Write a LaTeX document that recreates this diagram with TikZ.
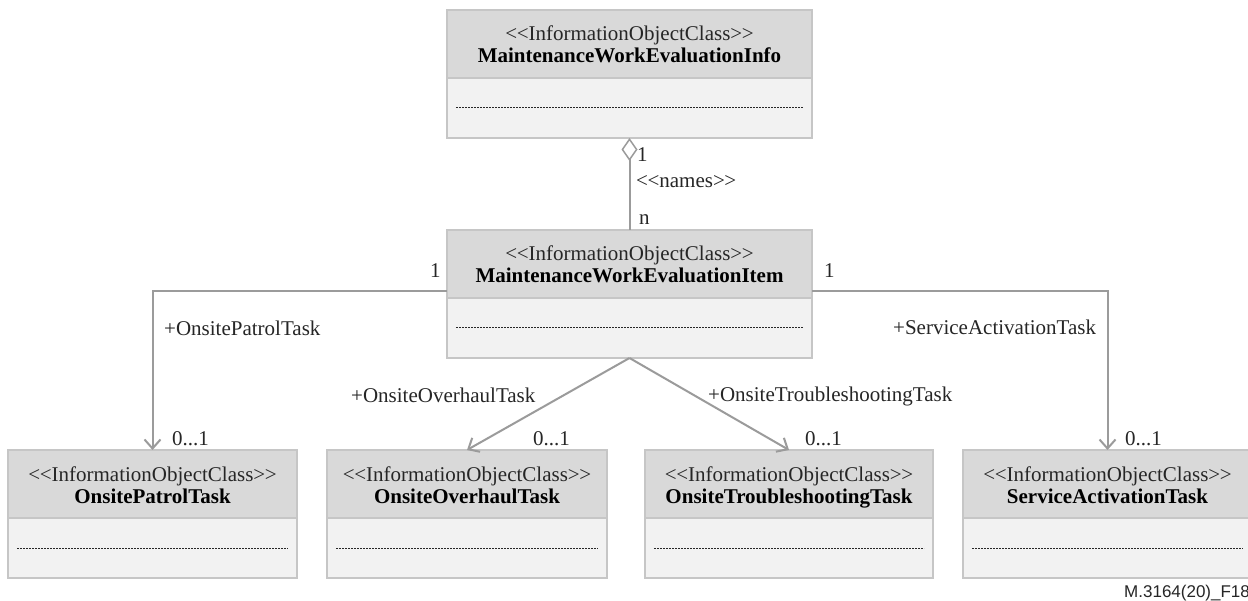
\documentclass[tikz,border=0pt]{standalone}
\usepackage{fontspec}
\setmainfont{Liberation Serif}
\newfontfamily\sansf{Liberation Sans}
\usetikzlibrary{arrows.meta,calc}
\definecolor{headfill}{HTML}{D9D9D9}
\definecolor{bodyfill}{HTML}{F2F2F2}
\definecolor{boxedge}{HTML}{C6C6C6}
\definecolor{connline}{HTML}{9B9B9B}
\definecolor{txt}{HTML}{262626}
\tikzset{
  umlbody/.style={draw=boxedge, line width=1.5pt, fill=bodyfill, inner sep=0pt, outer sep=0pt, minimum height=128pt, anchor=north},
  sterea/.style={font=\fontsize{21}{24}\selectfont, text=txt, anchor=base, inner sep=0pt},
  boldname/.style={font=\fontsize{21}{24}\selectfont\bfseries, text=black, anchor=base, inner sep=0pt},
  lbl/.style={font=\fontsize{21}{24}\selectfont, text=txt, anchor=base west, inner sep=0pt},
  conn/.style={draw=connline, line width=2pt},
  openarrow/.style={-{Straight Barb[length=9pt,width=16pt,line width=2pt]}},
  dotline/.style={draw=txt, line width=1pt, dash pattern=on 2pt off 1pt},
}
\newcommand\umlbox[5]{%
  \node[umlbody, minimum width=#4pt] (#1) at (#2,#3) {};
  \fill[headfill] ([xshift=0.75pt,yshift=-0.75pt]#1.north west) rectangle ([xshift=-0.75pt,yshift=-68pt]#1.north east);
  \draw[draw=boxedge, line width=1.5pt] ([yshift=-68pt]#1.north west) -- ([yshift=-68pt]#1.north east);
  \draw[dotline] ([xshift=9pt,yshift=-98pt]#1.north west) -- ([xshift=-9pt,yshift=-98pt]#1.north east);
  \node[sterea] (#1-st) at ([yshift=-31pt]#1.north) {<\kern-0.5pt<InformationObjectClass>\kern-0.5pt>};
  \node[boldname] (#1-nm) at ([yshift=-53pt]#1.north) {#5};
}
\begin{document}
\begin{tikzpicture}[x=1pt,y=-1pt]
\useasboundingbox (0,0) rectangle (1248,601);
\fill[white] (0,0) rectangle (1248,601);
\umlbox{info}{629.5}{10}{365}{MaintenanceWorkEvaluationInfo}
\umlbox{item}{629.5}{230}{365}{MaintenanceWorkEvaluationItem}
\umlbox{patrol}{152.5}{450}{289}{OnsitePatrolTask}
\umlbox{overhaul}{467}{450}{280}{OnsiteOverhaulTask}
\umlbox{trouble}{789}{450}{288}{OnsiteTroubleshootingTask}
\umlbox{service}{1107.5}{450}{289}{ServiceActivationTask}
\draw[conn, {Diamond[open,length=23pt,width=16pt,line width=1.5pt]}-] (info.south) -- (item.north);
\draw[conn, openarrow] ([yshift=3pt]item.west) -| (patrol.north);
\draw[conn, openarrow] ([yshift=3pt]item.east) -| (service.north);
\draw[conn, openarrow] (item.south) -- (overhaul.north);
\draw[conn, openarrow] (item.south) -- (trouble.north);
\node[lbl] (lagg1) at (637,162) {1};
\node[lbl] (lnames) at (636,188) {<\kern-0.5pt<names>\kern-0.5pt>};
\node[lbl] (laggn) at (639,225) {n};
\node[lbl] (lp1) at (430,278) {1};
\node[lbl] (ls1) at (824,278) {1};
\node[lbl] (lpt) at (164,336) {+OnsitePatrolTask};
\node[lbl] (lsa) at (893,335) {+ServiceActivationTask};
\node[lbl] (loh) at (351,403) {+OnsiteOverhaulTask};
\node[lbl] (lts) at (708,402) {+OnsiteTroubleshootingTask};
\node[lbl] (m1) at (172,446) {0...1};
\node[lbl] (m2) at (533,446) {0...1};
\node[lbl] (m3) at (805,446) {0...1};
\node[lbl] (m4) at (1125,446) {0...1};
\node[font=\sansf\fontsize{17}{19}\selectfont, anchor=base west, text=txt, inner sep=0pt] (figid) at (1124,597) {M.3164(20)\_F18};
\end{tikzpicture}
\end{document}
